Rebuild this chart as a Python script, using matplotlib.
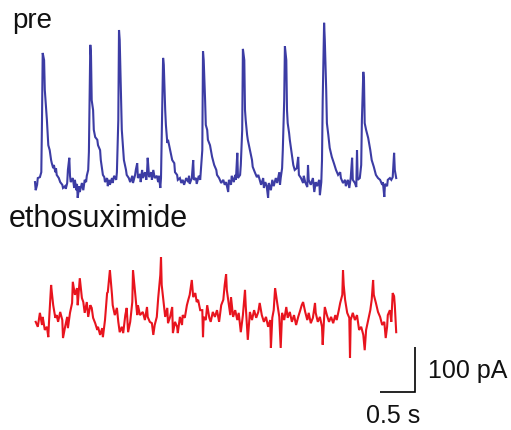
import numpy as np
import matplotlib
matplotlib.use("Agg")
import matplotlib.pyplot as plt

# ---- data (time in s, current in pA relative to each trace's baseline) ----
pre_t = [0.00, 0.01, 0.03, 0.04, 0.07, 0.09, 0.10, 0.11, 0.13, 0.14, 0.16, 0.17, 0.19, 0.21, 0.23, 0.24, 0.26, 0.27, 0.29, 0.30,
         0.31, 0.34, 0.36, 0.39, 0.40, 0.43, 0.44, 0.46, 0.47, 0.49, 0.50, 0.51, 0.54, 0.56, 0.57, 0.59, 0.60, 0.61, 0.63, 0.64,
         0.67, 0.69, 0.71, 0.73, 0.74, 0.76, 0.77, 0.79, 0.80, 0.81, 0.83, 0.84, 0.86, 0.89, 0.90, 0.93, 0.94, 0.96, 0.97, 0.99,
         1.00, 1.03, 1.04, 1.06, 1.07, 1.10, 1.11, 1.13, 1.16, 1.17, 1.19, 1.20, 1.21, 1.23, 1.24, 1.26, 1.27, 1.30, 1.31, 1.34,
         1.36, 1.39, 1.40, 1.43, 1.44, 1.46, 1.47, 1.50, 1.51, 1.53, 1.54, 1.57, 1.59, 1.60, 1.61, 1.63, 1.66, 1.67, 1.69, 1.71,
         1.74, 1.76, 1.77, 1.79, 1.80, 1.81, 1.83, 1.84, 1.86, 1.87, 1.89, 1.90, 1.93, 1.96, 1.99, 2.00, 2.03, 2.04, 2.07, 2.09,
         2.11, 2.13, 2.16, 2.19, 2.20, 2.21, 2.24, 2.26, 2.27, 2.30, 2.31, 2.34, 2.36, 2.37, 2.39, 2.40, 2.41, 2.43, 2.44, 2.46,
         2.47, 2.50, 2.53, 2.56, 2.59, 2.60, 2.63, 2.66, 2.69, 2.71, 2.73, 2.76, 2.77, 2.80, 2.81, 2.84, 2.86, 2.87, 2.89, 2.90,
         2.93, 2.94, 2.96, 2.97, 2.99, 3.00, 3.01, 3.03, 3.04, 3.07, 3.10, 3.11, 3.14, 3.17, 3.19, 3.21, 3.23, 3.26, 3.27, 3.29,
         3.31, 3.33, 3.34, 3.37, 3.39, 3.41, 3.44, 3.46, 3.49, 3.50, 3.51, 3.53, 3.54, 3.56, 3.57, 3.59, 3.60, 3.61, 3.63, 3.64,
         3.67, 3.69, 3.71, 3.74, 3.76, 3.77, 3.80, 3.83, 3.84, 3.86, 3.89, 3.90, 3.91, 3.94, 3.97, 3.99, 4.01, 4.03, 4.06, 4.07,
         4.09, 4.10, 4.11, 4.13, 4.14, 4.16, 4.17, 4.19, 4.21, 4.24, 4.27, 4.30, 4.33, 4.36, 4.37, 4.40, 4.43, 4.44, 4.47, 4.49,
         4.51, 4.53, 4.54, 4.57, 4.59, 4.60, 4.61, 4.64, 4.66, 4.67, 4.69, 4.70, 4.71, 4.73, 4.76, 4.79, 4.81, 4.84, 4.87, 4.90,
         4.93, 4.96, 4.97, 4.99, 5.00, 5.03, 5.04, 5.07, 5.09, 5.11, 5.13, 5.14, 5.16]
pre_i = [2, -16, -4, 11, 13, 24, 140, 289, 273, 207, 162, 140, 84, 73, 51, 44, 33, 40, 24, 33,
         18, 11, 2, -4, -11, -7, -13, 0, 29, 56, 16, 2, 11, -11, 7, -16, -2, -33, -7, -20,
         0, -16, 7, 2, 16, 29, 69, 307, 284, 184, 162, 118, 102, 96, 84, 73, 51, 29, 18, 13,
         2, 11, -7, 7, -4, 11, 0, 16, 7, 24, 140, 340, 318, 184, 118, 73, 51, 29, 18, 11,
         2, 16, 0, 18, 29, 44, 11, 20, 2, 29, 11, 24, 7, 22, 56, 13, 24, 7, 29, 11,
         16, 2, 16, -11, 11, 96, 278, 262, 162, 129, 89, 96, 73, 51, 44, 24, 18, 7, 11, 0,
         7, -4, 11, 2, 16, -2, 11, 51, 7, 11, -2, 16, 7, 29, 73, 293, 273, 184, 129, 118,
         96, 84, 58, 40, 29, 18, 11, 0, 7, -4, 2, -20, 7, -4, 16, 2, 18, 7, 67, 11,
         18, 40, 118, 298, 273, 162, 140, 107, 96, 73, 51, 36, 24, 13, 18, 7, -4, 11, -11, 2,
         -7, -33, 0, -16, 7, -7, 11, 0, 24, -4, 11, 33, 73, 184, 304, 273, 162, 133, 111, 96,
         62, 40, 29, 33, 58, 18, 11, 0, 16, 2, -9, 40, 7, -4, 11, -20, 2, -7, 7, -27,
         2, 51, 184, 356, 318, 207, 133, 107, 78, 58, 44, 29, 18, 24, 11, 0, 7, -7, 7, -11,
         11, 56, 7, 0, -9, 73, 7, 11, 40, 140, 247, 229, 133, 118, 100, 73, 51, 36, 18, 11,
         7, -4, 2, -31, -2, -7, 7, 11, 7, 13, 67, 29, 11]

etx_t = [0.01, 0.04, 0.07, 0.10, 0.11, 0.14, 0.17, 0.19, 0.20, 0.23, 0.24, 0.26, 0.29, 0.31, 0.33, 0.36, 0.39, 0.40, 0.43, 0.46,
         0.47, 0.50, 0.53, 0.54, 0.57, 0.60, 0.61, 0.64, 0.67, 0.69, 0.71, 0.74, 0.76, 0.79, 0.81, 0.83, 0.86, 0.89, 0.90, 0.93,
         0.96, 0.97, 1.00, 1.03, 1.04, 1.07, 1.10, 1.11, 1.14, 1.17, 1.19, 1.21, 1.24, 1.26, 1.29, 1.31, 1.33, 1.36, 1.39, 1.40,
         1.43, 1.46, 1.47, 1.50, 1.54, 1.57, 1.60, 1.61, 1.64, 1.67, 1.69, 1.71, 1.74, 1.76, 1.79, 1.80, 1.81, 1.83, 1.86, 1.89,
         1.90, 1.93, 1.96, 1.97, 2.00, 2.03, 2.04, 2.07, 2.10, 2.11, 2.14, 2.17, 2.19, 2.21, 2.24, 2.26, 2.29, 2.31, 2.33, 2.36,
         2.39, 2.40, 2.41, 2.44, 2.46, 2.49, 2.51, 2.54, 2.57, 2.60, 2.63, 2.66, 2.69, 2.71, 2.73, 2.74, 2.76, 2.79, 2.80, 2.83,
         2.86, 2.89, 2.91, 2.94, 2.97, 3.00, 3.01, 3.04, 3.07, 3.10, 3.13, 3.16, 3.19, 3.21, 3.24, 3.27, 3.30, 3.33, 3.36, 3.37,
         3.39, 3.41, 3.43, 3.46, 3.49, 3.51, 3.53, 3.56, 3.59, 3.61, 3.64, 3.67, 3.70, 3.73, 3.76, 3.79, 3.81, 3.83, 3.86, 3.89,
         3.91, 3.94, 3.97, 4.00, 4.01, 4.04, 4.07, 4.10, 4.11, 4.13, 4.14, 4.17, 4.20, 4.23, 4.26, 4.29, 4.31, 4.34, 4.36, 4.39,
         4.40, 4.41, 4.43, 4.46, 4.49, 4.50, 4.51, 4.54, 4.57, 4.60, 4.63, 4.66, 4.69, 4.71, 4.73, 4.76, 4.79, 4.81, 4.83, 4.84,
         4.87, 4.90, 4.93, 4.96, 4.99, 5.01, 5.03, 5.04, 5.07, 5.09, 5.11, 5.13, 5.14, 5.16]
etx_i = [7, -4, 27, 0, 18, -11, -4, -27, 7, 89, 73, 44, 16, 22, 7, 29, 11, -29, -4, 18,
         -7, 27, 49, 96, 67, 82, 44, 104, 60, 51, 27, 51, 18, 44, 38, 16, 4, -11, -4, -22,
         -7, -27, 11, 71, 73, 122, 67, 44, 22, 38, 7, -16, -4, -18, 22, 38, -16, 7, 51, 122,
         73, 22, 44, 22, 29, 11, 40, 18, 7, 4, -22, 0, 18, 60, 111, 151, 89, 60, 18, 38,
         4, 18, 40, -18, 7, -4, -18, 18, 0, 22, 16, 44, 56, 67, 100, 62, 71, 51, 56, 33,
         33, -27, 18, 11, 44, 16, 7, 29, 18, 33, 7, 44, 56, 89, 113, 78, 56, 22, 62, 18,
         33, 11, 27, -16, 22, 78, 44, -33, 29, 11, 33, 16, 29, 49, 22, 7, 18, -4, 11, -51,
         16, 33, 82, 49, 18, -51, 27, 11, 40, 16, 29, 7, 22, 0, 18, 33, 44, 51, 29, 11,
         27, 4, 16, 49, 27, 7, 18, -4, -44, 16, 40, 22, 7, 18, 4, 22, 11, 33, 49, 67,
         122, 89, 56, 27, 16, -73, 11, 27, 11, 22, -11, -4, -22, -56, -11, 11, 33, 56, 100, 67,
         49, 29, 18, 0, 7, -29, -4, 22, 33, 7, 71, 64, 44, -16]

scale_t = 0.5      # s
scale_i = 100      # pA

# ---- layout (figure 511 x 430 px) ----
W, H = 511, 430
PX_PER_S = 70.0
PX_PER_PA = 0.45
X0 = 35            # px where t = 0

fig = plt.figure(figsize=(W / 100, H / 100), dpi=100)
ax = fig.add_axes([0, 0, 1, 1])
ax.set_xlim(-X0 / PX_PER_S, (W - X0) / PX_PER_S)
ax.set_ylim(0, H / PX_PER_PA)
ax.axis("off")

def yoff(ypix):
    return (H - ypix) / PX_PER_PA

pre_base = yoff(183)
etx_base = yoff(325)

ax.plot(pre_t, np.array(pre_i) + pre_base, color="#3c3ca4", lw=1.5, solid_joinstyle="miter")
ax.plot(etx_t, np.array(etx_i) + etx_base, color="#e8141e", lw=1.5, solid_joinstyle="miter")

# scale bar
sb_x1 = (415 - X0) / PX_PER_S
sb_y0 = yoff(392)
ax.plot([sb_x1 - scale_t, sb_x1, sb_x1], [sb_y0, sb_y0, sb_y0 + scale_i], color="black", lw=1.2,
        solid_joinstyle="miter", solid_capstyle="butt")

fam = ["Liberation Sans", "DejaVu Sans"]
def ftext(xp, yp, s, size):
    fig.text(xp / W, 1 - yp / H, s, fontsize=size, family=fam, va="baseline", ha="left", color="#111111")

ftext(12, 28, "pre", 20)
ftext(9, 227, "ethosuximide", 22)
ftext(428, 378, f"{scale_i} pA", 18)
ftext(366, 423, f"{scale_t} s", 18)

fig.savefig("out.png", dpi=100)
